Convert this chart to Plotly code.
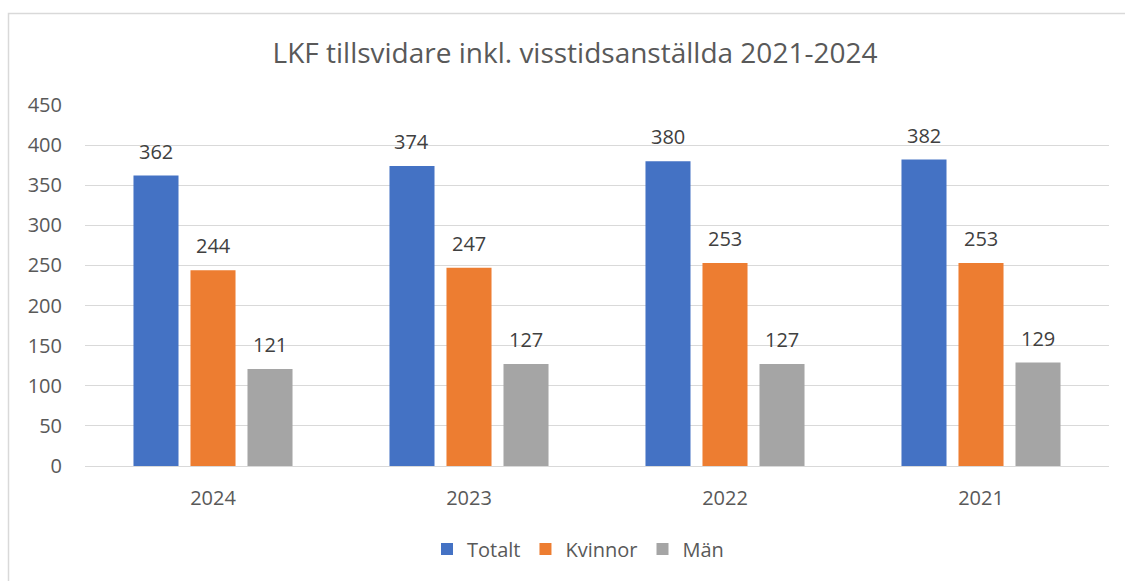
import plotly.graph_objects as go

years = ["2024", "2023", "2022", "2021"]
series_names = ["Totalt", "Kvinnor", "Män"]
totalt = [362, 374, 380, 382]
kvinnor = [244, 247, 253, 253]
man = [121, 127, 127, 129]
colors = ["#4472C4", "#ED7D31", "#A5A5A5"]
y_ticks = [0, 50, 100, 150, 200, 250, 300, 350, 400, 450]
title = "LKF tillsvidare inkl. visstidsanställda 2021-2024"

FONT = "Open Sans"
W, H = 1125, 581
ml, mr, mt, mb = 85, 16, 105, 115
plot_w = W - ml - mr
bargap = 0.332
bargroupgap = 0.21

fig = go.Figure()
all_vals = [totalt, kvinnor, man]
for name, vals, col in zip(series_names, all_vals, colors):
    fig.add_trace(go.Bar(x=years, y=vals, name=name, marker_color=col,
                         marker_line_width=0, hoverinfo="x+y+name"))

# data labels as annotations placed via axes (x given as category index)
cat_px = plot_w / len(years)
slot = cat_px * (1 - bargap) / len(series_names)
for si, vals in enumerate(all_vals):
    off = (si - (len(series_names) - 1) / 2) * slot
    for i, v in enumerate(vals):
        fig.add_annotation(x=i, y=v, xref="x", yref="y", text=str(v),
                           showarrow=False, xshift=off, yshift=9,
                           yanchor="bottom",
                           font=dict(family=FONT, size=20, color="#404040"))

# outer chart border
px = lambda x: (x - ml) / plot_w
py = lambda y: 1 - (y - mt) / (H - mt - mb)
fig.add_shape(type="rect", xref="paper", yref="paper",
              x0=px(8.5), x1=px(1140), y0=py(600), y1=py(13.5),
              line=dict(color="#D9D9D9", width=1.5), fillcolor="rgba(0,0,0,0)")

fig.update_layout(
    width=W, height=H,
    margin=dict(l=ml, r=mr, t=mt, b=mb),
    paper_bgcolor="white", plot_bgcolor="white",
    barmode="group", bargap=bargap, bargroupgap=bargroupgap,
    title=dict(text=title, x=575 / W, xref="container", xanchor="center",
               y=1 - 53 / H, yanchor="middle",
               font=dict(family=FONT, size=28, color="#595959")),
    font=dict(family=FONT, color="#595959"),
    showlegend=True,
    legend=dict(orientation="h", x=px(578), xanchor="center", xref="paper",
                y=py(549), yanchor="middle",
                font=dict(family=FONT, size=20, color="#595959"),
                itemwidth=30, traceorder="normal"),
    xaxis=dict(type="category", range=[-0.5, len(years) - 0.5],
               showgrid=False, showline=False, ticks="",
               tickfont=dict(family=FONT, size=20, color="#595959"),
               ticklabelstandoff=18, fixedrange=True),
    yaxis=dict(range=[0, 450], tickvals=y_ticks, showgrid=True,
               gridcolor="#D9D9D9", gridwidth=1, zeroline=True,
               zerolinecolor="#D9D9D9", zerolinewidth=1, showline=False,
               ticks="", tickfont=dict(family=FONT, size=20, color="#595959"),
               ticklabelstandoff=22, fixedrange=True),
)

fig.write_html("out.html", config={"displayModeBar": False},
               post_script="document.body.style.margin='0px';")
